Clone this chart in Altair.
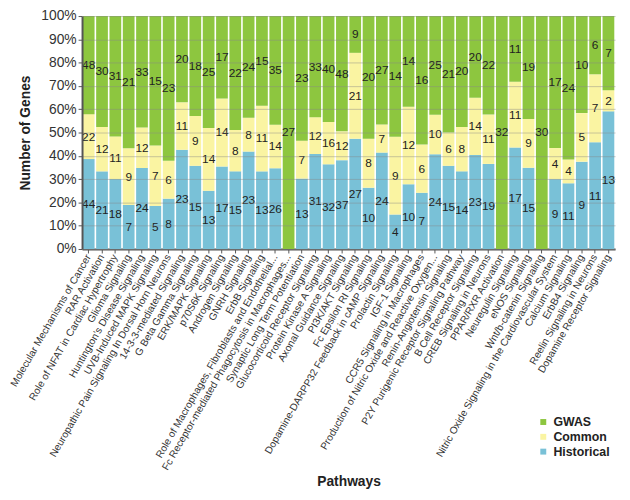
import altair as alt
import pandas as pd

pathways = [
    "Molecular Mechanisms of Cancer",
    "RAR Activation",
    "Role of NFAT in Cardiac Hypertrophy",
    "Glioma Signaling",
    "Huntington's Disease Signaling",
    "UVB-Induced MAPK Signaling",
    "Neuropathic Pain Signaling In Dorsal Horn Neurons",
    "14-3-3-mediated Signaling",
    "G Beta Gamma Signaling",
    "ERK/MAPK Signaling",
    "p70S6K Signaling",
    "Androgen Signaling",
    "GNRH Signaling",
    "ErbB Signaling",
    "Role of Macrophages, Fibroblasts and Endothelial...",
    "Fc Receptor-mediated Phagocytosis in Macrophages...",
    "Synaptic Long Term Potentiation",
    "Glucocorticoid Receptor Signaling",
    "Protein Kinase A Signaling",
    "Axonal Guidance Signaling",
    "PI3K/AKT Signaling",
    "Fc Epsilon RI Signaling",
    "Dopamine-DARPP32 Feedback in cAMP Signaling",
    "Prolactin Signaling",
    "IGF-1 Signaling",
    "CCR5 Signaling in Macrophages",
    "Production of Nitric Oxide and Reactive Oxygen...",
    "Renin-Angiotensin Signaling",
    "P2Y Purigenic Receptor Signaling Pathway",
    "B Cell Receptor Signaling",
    "CREB Signaling in Neurons",
    "PPAR/RXR Activation",
    "Neuregulin Signaling",
    "eNOS Signaling",
    "Wnt/b-catenin Signaling",
    "Nitric Oxide Signaling in the Cardiovascular System",
    "Calcium Signaling",
    "ErbB4 Signaling",
    "Reelin Signaling in Neurons",
    "Dopamine Receptor Signaling",
]
historical = [44, 21, 18, 7, 24, 5, 8, 23, 15, 13, 17, 15, 23, 13, 26, 0, 13, 31, 32, 37,
              27, 10, 24, 4, 10, 7, 24, 15, 14, 23, 19, 0, 17, 15, 0, 9, 11, 9, 11, 13]
common = [22, 12, 11, 9, 12, 7, 6, 11, 9, 14, 14, 8, 8, 11, 14, 0, 7, 12, 16, 12,
          21, 8, 7, 9, 12, 6, 10, 6, 8, 14, 11, 0, 11, 9, 0, 4, 4, 5, 7, 2]
gwas = [48, 30, 31, 21, 33, 15, 23, 20, 18, 25, 17, 22, 24, 15, 35, 27, 23, 33, 40, 48,
        9, 20, 27, 14, 14, 16, 25, 21, 20, 20, 22, 32, 11, 19, 30, 17, 24, 10, 6, 7]
y_ticks = [0, 0.1, 0.2, 0.3, 0.4, 0.5, 0.6, 0.7, 0.8, 0.9, 1.0]

series = ["GWAS", "Common", "Historical"]
colors = ["#8dc63f", "#faf4a2", "#79c1d7"]

rows = []
for i, p in enumerate(pathways):
    for s, vals, o in (("Historical", historical, 0), ("Common", common, 1), ("GWAS", gwas, 2)):
        rows.append({"pathway": p, "series": s, "value": vals[i], "ord": o})
df = pd.DataFrame(rows)

FONT = "Liberation Sans"

base = alt.Chart(df).transform_stack(
    stack="value",
    groupby=["pathway"],
    as_=["y0", "y1"],
    sort=[alt.SortField("ord", order="ascending")],
    offset="normalize",
).transform_calculate(mid="(datum.y0 + datum.y1) / 2")

x_axis = alt.Axis(
    labelAngle=-60,
    labelAlign="right",
    labelBaseline="middle",
    labelFontSize=10.3,
    labelLimit=400,
    labelColor="#333333",
    labelFont=FONT,
    labelPadding=2,
    tickSize=4,
    tickColor="#555555",
    domainColor="#555555",
    domainWidth=2,
    titleFont=FONT,
    titleFontSize=14,
    titleFontWeight="bold",
    titleColor="#222222",
    titleBaseline="alphabetic",
    titleY=240,
)
x_scale = alt.Scale(paddingInner=0.12, paddingOuter=0.06)

y_axis = alt.Axis(
    format=".0%",
    values=y_ticks,
    labelOverlap=False,
    labelFontSize=14,
    labelFont=FONT,
    labelColor="#333333",
    tickSize=4,
    tickColor="#555555",
    domainColor="#555555",
    domainWidth=2,
    grid=True,
    gridColor="#888888",
    gridOpacity=0.45,
    zindex=1,
    titleFont=FONT,
    titleFontSize=14,
    titleFontWeight="bold",
    titleColor="#222222",
    titlePadding=8,
)
y_scale = alt.Scale(domain=[0, 1], nice=False)

bars = base.mark_bar(strokeWidth=0).encode(
    x=alt.X("pathway:N", sort=pathways, title="Pathways", scale=x_scale, axis=x_axis),
    y=alt.Y("y0:Q", scale=y_scale, title="Number of Genes", axis=y_axis),
    y2="y1:Q",
    color=alt.Color(
        "series:N",
        scale=alt.Scale(domain=series, range=colors),
        legend=alt.Legend(
            title=None,
            orient="none",
            legendX=461,
            legendY=405,
            symbolType="square",
            symbolSize=36,
            symbolStrokeWidth=0,
            labelFont=FONT,
            labelFontSize=12.5,
            labelFontWeight="bold",
            labelColor="#222222",
            rowPadding=2,
        ),
    ),
)

texts = base.transform_filter("datum.value > 0").mark_text(
    font=FONT, fontSize=12, color="#222222"
).encode(
    x=alt.X("pathway:N", sort=pathways, title="Pathways", scale=x_scale, axis=x_axis),
    y=alt.Y("mid:Q", scale=y_scale, title="Number of Genes", axis=y_axis),
    text=alt.Text("value:Q"),
)

chart = alt.layer(bars, texts).properties(
    width=540,
    height=236,
    autosize=alt.AutoSizeParams(type="none"),
    padding={"left": 75, "top": 5, "right": 7, "bottom": 243},
).configure_view(stroke=None)

chart.save("out.html", embed_options={"renderer": "svg", "actions": False})
